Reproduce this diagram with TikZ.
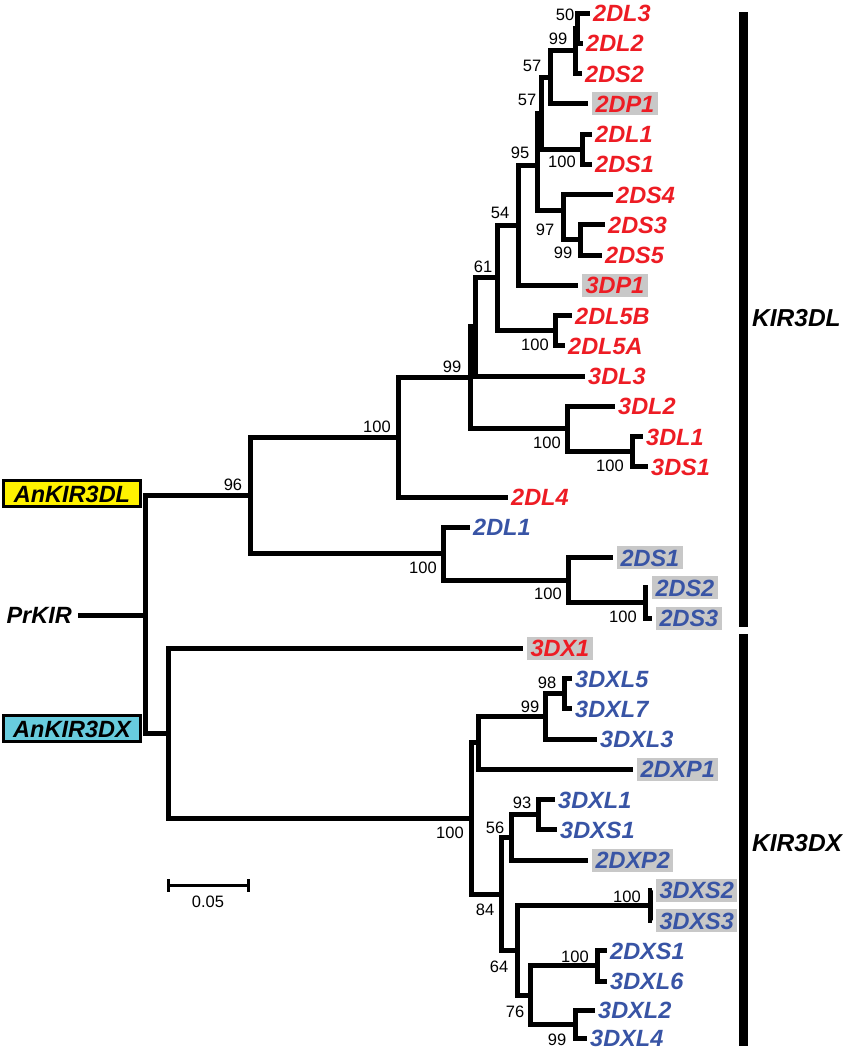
\documentclass[tikz,border=0pt]{standalone}
\usepackage{fontspec}
\setmainfont{Liberation Sans}

\definecolor{kirred}{RGB}{237,28,36}
\definecolor{kirblue}{RGB}{56,84,165}
\definecolor{boxgray}{RGB}{200,200,200}
\definecolor{anyellow}{RGB}{255,242,0}
\definecolor{ancyan}{RGB}{104,204,222}

\newcommand{\leaffont}{\fontsize{23.5}{26}\selectfont\bfseries\itshape}
\newcommand{\bsfont}{\fontsize{16.5}{18}\selectfont}

\tikzset{
  branch/.style={line width=5pt, black},
  leaf/.style={anchor=west, inner xsep=3pt, inner ysep=3pt, text height=17pt, text depth=0pt, font=\leaffont},
  redleaf/.style={leaf, text=kirred},
  blueleaf/.style={leaf, text=kirblue},
  boxed/.style={fill=boxgray, inner xsep=3.5pt, outer sep=4pt},
  bootstrap/.style={font=\bsfont, inner sep=0pt},
  anbox/.style={draw=black, line width=3pt, minimum width=137pt, minimum height=26pt, inner sep=0pt, text height=17pt, text depth=0pt, font=\leaffont, anchor=east},
  groupbar/.style={line width=9pt, black},
}

\begin{document}
\begin{tikzpicture}[x=1pt, y=-1pt]
  \useasboundingbox (0,0) rectangle (845,1050);

  % leaves, KIR3DL lineage
  \node[redleaf] (l2DL3) at (590,13) {2DL3};
  \node[redleaf] (l2DL2) at (583,43.25) {2DL2};
  \node[redleaf] (l2DS2) at (582,73.5) {2DS2};
  \node[redleaf, boxed] (l2DP1) at (588,103.75) {2DP1};
  \node[redleaf] (l2DL1r) at (592,134) {2DL1};
  \node[redleaf] (l2DS1r) at (592,164.25) {2DS1};
  \node[redleaf] (l2DS4) at (613,194.5) {2DS4};
  \node[redleaf] (l2DS3) at (605,224.75) {2DS3};
  \node[redleaf] (l2DS5) at (602,255) {2DS5};
  \node[redleaf, boxed] (l3DP1) at (578,285.25) {3DP1};
  \node[redleaf] (l2DL5B) at (572,315.5) {2DL5B};
  \node[redleaf] (l2DL5A) at (565,345.75) {2DL5A};
  \node[redleaf] (l3DL3) at (585,376) {3DL3};
  \node[redleaf] (l3DL2) at (615,406.25) {3DL2};
  \node[redleaf] (l3DL1) at (643,436.5) {3DL1};
  \node[redleaf] (l3DS1) at (648,466.75) {3DS1};
  \node[redleaf] (l2DL4) at (508,497) {2DL4};
  \node[blueleaf] (l2DL1b) at (470,527.25) {2DL1};
  \node[blueleaf, boxed] (l2DS1b) at (613,557.5) {2DS1};
  \node[blueleaf, boxed] (l2DS2b) at (648,587.75) {2DS2};
  \node[blueleaf, boxed] (l2DS3b) at (652,618) {2DS3};

  % leaves, KIR3DX lineage
  \node[redleaf, boxed] (l3DX1) at (523,648.25) {3DX1};
  \node[blueleaf] (l3DXL5) at (572,678.5) {3DXL5};
  \node[blueleaf] (l3DXL7) at (572,708.75) {3DXL7};
  \node[blueleaf] (l3DXL3) at (597,739) {3DXL3};
  \node[blueleaf, boxed] (l2DXP1) at (633,769.25) {2DXP1};
  \node[blueleaf] (l3DXL1) at (555,799.5) {3DXL1};
  \node[blueleaf] (l3DXS1) at (557,829.75) {3DXS1};
  \node[blueleaf, boxed] (l2DXP2) at (588,860) {2DXP2};
  \node[blueleaf, boxed] (l3DXS2) at (652,890.25) {3DXS2};
  \node[blueleaf, boxed] (l3DXS3) at (652,920.5) {3DXS3};
  \node[blueleaf] (l2DXS1) at (607,950.75) {2DXS1};
  \node[blueleaf] (l3DXL6) at (607,981) {3DXL6};
  \node[blueleaf] (l3DXL2) at (595,1010) {3DXL2};
  \node[blueleaf] (l3DXL4) at (587,1038) {3DXL4};

  % ancestral labels
  \node[anbox, fill=anyellow] (anDL) at (142,493.5) {AnKIR3DL};
  \node[anbox, fill=ancyan] (anDX) at (142,728.5) {AnKIR3DX};
  \node[leaf, anchor=east, inner xsep=6pt] (prkir) at (78,615) {PrKIR};

  % internal nodes
  \coordinate (root) at (145,615);
  \coordinate (n96) at (250,495.6);
  \coordinate (n100e) at (398,437.5);
  \coordinate (n99c) at (470,377.9);
  \coordinate (n61) at (475,326.9);
  \coordinate (n54) at (497,277.8);
  \coordinate (n95) at (518,225);
  \coordinate (nY) at (537,165);
  \coordinate (n57b) at (541,113.2);
  \coordinate (n57a) at (550,77.3);
  \coordinate (n99a) at (575,50.8);
  \coordinate (n50) at (577,28.1);
  \coordinate (n100a) at (582,149.1);
  \coordinate (n97) at (563,210);
  \coordinate (n99b) at (580,239.9);
  \coordinate (n100b) at (555,330.6);
  \coordinate (n100c) at (567,428.9);
  \coordinate (n100d) at (632,451.6);
  \coordinate (n100h) at (443,553.7);
  \coordinate (n100g) at (568,580.2);
  \coordinate (n100f) at (645,602.9);
  \coordinate (nDX) at (168,733.3);
  \coordinate (n100k) at (471,818.4);
  \coordinate (nU) at (478,742.8);
  \coordinate (n99d) at (545,716.3);
  \coordinate (n98) at (564,693.6);
  \coordinate (n84) at (501,894);
  \coordinate (n56) at (511,837.3);
  \coordinate (n93) at (538,814.6);
  \coordinate (n64) at (517,950.8);
  \coordinate (n100i) at (650,905.4);
  \coordinate (n76) at (530,995);
  \coordinate (n100j) at (597,965.9);
  \coordinate (n99e) at (575,1024);

  % branches
  \draw[branch] (prkir.east) -- (root);
  \draw[branch] (root) |- (n96) (root) |- (nDX);
  \draw[branch] (n96) |- (n100e) (n96) |- (n100h);
  \draw[branch] (n100e) |- (n99c) (n100e) |- (l2DL4.west);
  \draw[branch] (n99c) |- (n61) (n99c) |- (n100c);
  \draw[branch] (n61) |- (n54) (n61) |- (l3DL3.west);
  \draw[branch] (n54) |- (n95) (n54) |- (n100b);
  \draw[branch] (n100b) |- (l2DL5B.west) (n100b) |- (l2DL5A.west);
  \draw[branch] (n95) |- (nY) (n95) |- (l3DP1.west);
  \draw[branch] (nY) |- (n57b) (nY) |- (n97);
  \draw[branch] (n97) |- (l2DS4.west) (n97) |- (n99b);
  \draw[branch] (n99b) |- (l2DS3.west) (n99b) |- (l2DS5.west);
  \draw[branch] (n57b) |- (n57a) (n57b) |- (n100a);
  \draw[branch] (n100a) |- (l2DL1r.west) (n100a) |- (l2DS1r.west);
  \draw[branch] (n57a) |- (n99a) (n57a) |- (l2DP1.west);
  \draw[branch] (n99a) |- (n50) (n99a) |- (l2DS2.west);
  \draw[branch] (n50) |- (l2DL3.west) (n50) |- (l2DL2.west);
  \draw[branch] (n100c) |- (l3DL2.west) (n100c) |- (n100d);
  \draw[branch] (n100d) |- (l3DL1.west) (n100d) |- (l3DS1.west);
  \draw[branch] (n100h) |- (l2DL1b.west) (n100h) |- (n100g);
  \draw[branch] (n100g) |- (l2DS1b.west) (n100g) |- (n100f);
  \draw[branch] (n100f) |- (l2DS2b.west) (n100f) |- (l2DS3b.west);
  \draw[branch] (nDX) |- (l3DX1.west) (nDX) |- (n100k);
  \draw[branch] (n100k) |- (nU) (n100k) |- (n84);
  \draw[branch] (nU) |- (n99d) (nU) |- (l2DXP1.west);
  \draw[branch] (n99d) |- (n98) (n99d) |- (l3DXL3.west);
  \draw[branch] (n98) |- (l3DXL5.west) (n98) |- (l3DXL7.west);
  \draw[branch] (n84) |- (n56) (n84) |- (n64);
  \draw[branch] (n56) |- (n93) (n56) |- (l2DXP2.west);
  \draw[branch] (n93) |- (l3DXL1.west) (n93) |- (l3DXS1.west);
  \draw[branch] (n64) |- (n100i) (n64) |- (n76);
  \draw[branch] (n100i) |- (l3DXS2.west) (n100i) |- (l3DXS3.west);
  \draw[branch] (n76) |- (n100j) (n76) |- (n99e);
  \draw[branch] (n100j) |- (l2DXS1.west) (n100j) |- (l3DXL6.west);
  \draw[branch] (n99e) |- (l3DXL2.west) (n99e) |- (l3DXL4.west);

  % bootstrap values
  \node[bootstrap] (b50) at (565,15) {50};
  \node[bootstrap] (b99a) at (558,39) {99};
  \node[bootstrap] (b57a) at (532,66) {57};
  \node[bootstrap] (b57b) at (527,100) {57};
  \node[bootstrap] (b100a) at (562,162) {100};
  \node[bootstrap] (b95) at (520,153) {95};
  \node[bootstrap] (b54) at (500,213) {54};
  \node[bootstrap] (b97) at (545,230) {97};
  \node[bootstrap] (b99b) at (563,253) {99};
  \node[bootstrap] (b61) at (483,267) {61};
  \node[bootstrap] (b100b) at (535,345) {100};
  \node[bootstrap] (b99c) at (452,367) {99};
  \node[bootstrap] (b100c) at (547,443) {100};
  \node[bootstrap] (b100d) at (610,466) {100};
  \node[bootstrap] (b100e) at (377,427) {100};
  \node[bootstrap] (b96) at (233,485) {96};
  \node[bootstrap] (b100h) at (423,568) {100};
  \node[bootstrap] (b100g) at (548,594) {100};
  \node[bootstrap] (b100f) at (623,617) {100};
  \node[bootstrap] (b98) at (547,683) {98};
  \node[bootstrap] (b99d) at (530,707) {99};
  \node[bootstrap] (b100k) at (450,833) {100};
  \node[bootstrap] (b93) at (522,803) {93};
  \node[bootstrap] (b56) at (495,828) {56};
  \node[bootstrap] (b84) at (485,910) {84};
  \node[bootstrap] (b100i) at (627,897) {100};
  \node[bootstrap] (b64) at (499,967) {64};
  \node[bootstrap] (b100j) at (575,957) {100};
  \node[bootstrap] (b76) at (515,1012) {76};
  \node[bootstrap] (b99e) at (557,1040) {99};

  % scale bar
  \draw[line width=3pt] (168,879) -- (168,892) (168,885) -- (248,885) (248,879) -- (248,892);
  \node[bootstrap] (scale) at (208,902) {0.05};

  % lineage bars
  \draw[groupbar] (743.5,12) -- (743.5,627);
  \draw[groupbar] (743.5,634) -- (743.5,1046);
  \node[leaf, font=\fontsize{24.5}{26}\selectfont\bfseries\itshape] (kirdl) at (749,318) {KIR3DL};
  \node[leaf, font=\fontsize{24.5}{26}\selectfont\bfseries\itshape] (kirdx) at (749,843) {KIR3DX};
\end{tikzpicture}
\end{document}
